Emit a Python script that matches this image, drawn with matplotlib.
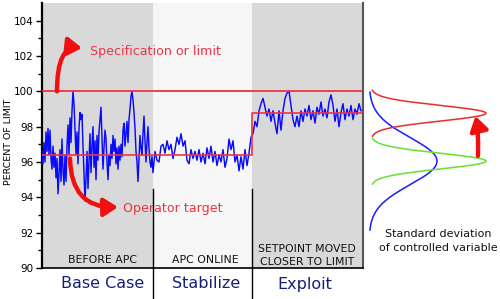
import numpy as np
import matplotlib
matplotlib.use("Agg")
import matplotlib.pyplot as plt
from matplotlib.patches import FancyArrowPatch
from matplotlib.path import Path
import matplotlib.transforms as mtransforms

# ---------------- data ----------------
base_case = [96.6, 95.9, 97.1, 96.0, 97.7, 96.6, 97.9, 96.4, 97.8, 96.2,
             95.6, 96.9, 95.7, 96.5, 95.1, 96.2, 94.2, 95.3, 96.7, 94.9,
             97.3, 95.5, 94.7, 96.4, 94.9, 96.9, 98.1, 96.4, 98.5, 97.1,
             98.9, 100.0, 99.3, 97.9, 96.4, 97.7, 95.9, 97.9, 98.8, 98.4,
             98.7, 96.9, 95.4, 93.8, 95.1, 96.6, 94.5, 96.1, 97.6, 95.4,
             96.9, 98.0, 95.7, 97.2, 95.0, 97.5, 96.1, 97.7, 98.4, 99.1,
             97.3, 95.6, 96.8, 97.8, 97.3, 96.0, 95.0, 96.4, 95.8, 97.0,
             96.2, 97.5, 96.6, 97.3, 95.9, 96.8, 95.6, 96.9, 96.1, 97.0,
             96.3, 97.8, 98.2, 96.9, 97.6, 98.3, 97.1, 98.4, 99.0, 99.7,
             100.0, 99.5, 98.8, 97.9, 96.6, 96.0, 94.9, 96.2, 97.5, 96.8,
             96.4, 97.6, 98.6, 97.2, 96.0, 97.1, 98.0, 96.8, 96.0, 95.7,
             96.3]
stabilize = [95.4, 96.6, 96.1, 96.0, 96.9, 97.0, 96.5, 97.2, 96.7, 97.0,
             96.2, 96.7, 97.4, 97.0, 97.6, 96.9, 97.2, 96.1, 95.9, 96.7,
             96.2, 96.6, 96.1, 96.7, 96.0, 96.5, 95.9, 96.8, 96.2, 96.9,
             96.0, 96.6, 95.8, 96.4, 96.0, 96.7, 95.7, 96.2, 97.3, 96.7,
             97.2, 96.0, 96.4, 95.5, 96.3, 95.6, 96.7, 95.8, 96.5, 97.4]
exploit = [97.6, 98.3, 98.0, 98.9, 99.3, 99.6, 99.1, 98.6, 99.0, 98.3,
           98.9, 98.2, 97.6, 98.9, 97.8, 98.9, 99.6, 99.9, 100.0, 99.2,
           98.4, 98.0, 98.6, 98.0, 98.9, 98.3, 99.0, 98.6, 99.2, 98.4,
           98.9, 98.2, 99.1, 98.7, 99.4, 98.6, 99.0, 98.5, 99.4, 99.8,
           99.2, 98.3, 99.0, 98.0, 98.8, 99.3, 98.4, 99.0, 98.6, 99.2,
           98.4, 99.0, 98.7, 99.3, 98.9]

phase_edges = [0, 111, 210, 321]
phase_names = ["Base Case", "Stabilize", "Exploit"]
phase_notes = ["BEFORE APC", "APC ONLINE", "SETPOINT MOVED\nCLOSER TO LIMIT"]
phase_colors = ["#d9d9d9", "#f6f6f6", "#d9d9d9"]
spec_limit = 100.0
targets = [96.4, 96.4, 98.75]

# distributions: (mean, sd, peak width in px, color)
dist_mean = [96.05, 98.76, 96.05]
dist_sd = [1.33, 0.44, 0.44]
dist_colors = ["#1a1aff", "#ee2a2a", "#66e033"]
dist_amp = [68, 115, 115]
dist_base = [369, 371, 371]
dist_span = [3.9, 1.3, 1.3]

# ---------------- figure ----------------
fig = plt.figure(figsize=(5, 2.99), dpi=100)
W, H = 500, 299
ax = fig.add_axes([42 / W, 1 - 268 / H, 321 / W, 265 / H])
ax.set_xlim(0, 321)
ax.set_ylim(90, 105)

for i in range(3):
    ax.axvspan(phase_edges[i], phase_edges[i + 1], color=phase_colors[i], lw=0, zorder=0)

x1 = np.arange(0, len(base_case))
x2 = np.arange(111, 111 + 2 * len(stabilize), 2)
x3 = np.arange(211, 211 + 2 * len(exploit), 2)
xs = np.concatenate([x1, x2, x3])
ys = np.concatenate([base_case, stabilize, exploit])
ax.plot(xs, ys, color="#0a0aff", lw=1.05, zorder=3)

red = "#ee3344"
ax.axhline(spec_limit, color=red, lw=1.3, zorder=4)
ax.plot([phase_edges[0], phase_edges[2], phase_edges[2], phase_edges[3]],
        [targets[0], targets[1], targets[2], targets[2]], color=red, lw=1.2, zorder=4)

# spines / ticks
ax.spines["top"].set_visible(False)
ax.spines["left"].set_linewidth(1.6)
ax.spines["bottom"].set_linewidth(1.2)
ax.spines["right"].set_color("#555555")
ax.spines["right"].set_linewidth(1.5)
ax.set_xticks([])
ax.set_yticks(np.arange(90, 105, 2))
ax.set_yticks(np.arange(91, 105, 2), minor=True)
ax.tick_params(axis="y", which="major", length=4, width=1, labelsize=7.5, pad=2)
ax.tick_params(axis="y", which="minor", length=3, width=1)
fig.text(9 / W, 1 - 142 / H, "PERCENT OF LIMIT", rotation=90, ha="center",
         va="center", fontsize=6.8)

# dividers
trans = mtransforms.blended_transform_factory(ax.transData, ax.transAxes)
for e in phase_edges[1:3]:
    ax.plot([e, e], [(268 - 189) / 265, (268 - 298) / 265], color="black",
            lw=1.0, transform=trans, clip_on=False, zorder=5)

# phase notes and names (pixel centres)
name_cx = [103, 206, 305]
note_cx = [102, 205, 307]
note_cy = [260, 260, 255.5]
for i in range(3):
    fig.text(note_cx[i] / W, 1 - note_cy[i] / H, phase_notes[i], ha="center",
             va="center", fontsize=7.8, color="#111111", linespacing=1.3)
    fig.text(name_cx[i] / W, 1 - 284 / H, phase_names[i], ha="center",
             va="center", fontsize=11.5, color="#14207a")

# annotations
ax.text(48, 102.25, "Specification or limit", color=red, fontsize=9.1,
        va="center", ha="left")
ax.text(81, 93.35, "Operator target", color=red, fontsize=9.1,
        va="center", ha="left")

arrow_red = "#f01010"
p1 = Path([(15, 100.0), (15, 102.6), (40, 102.45)],
          [Path.MOVETO, Path.CURVE3, Path.CURVE3])
a1 = FancyArrowPatch(path=p1, arrowstyle="-|>,head_length=0.7,head_width=0.45",
                     mutation_scale=12, lw=3.2, color=arrow_red, zorder=6)
ax.add_patch(a1)
p2 = Path([(28, 96.2), (29, 93.4), (76, 93.45)],
          [Path.MOVETO, Path.CURVE3, Path.CURVE3])
a2 = FancyArrowPatch(path=p2, arrowstyle="-|>,head_length=0.7,head_width=0.45",
                     mutation_scale=12, lw=3.2, color=arrow_red, zorder=6)
ax.add_patch(a2)

# right-hand distributions
ax2 = fig.add_axes([360 / W, 1 - 268 / H, 140 / W, 265 / H])
ax2.set_xlim(360, 500)
ax2.set_ylim(90, 105)
ax2.axis("off")
for m, s, c, a, b, sp in zip(dist_mean, dist_sd, dist_colors, dist_amp, dist_base, dist_span):
    yy = np.linspace(m - sp, m + sp, 200)
    xx = b + a * np.exp(-0.5 * ((yy - m) / s) ** 2)
    ax2.plot(xx, yy, color=c, lw=1.1)

p3 = Path([(478, 96.35), (478.5, 97.9), (475.5, 98.6)],
          [Path.MOVETO, Path.CURVE3, Path.CURVE3])
a3 = FancyArrowPatch(path=p3, arrowstyle="-|>,head_length=0.7,head_width=0.45",
                     mutation_scale=12, lw=3.2, color=arrow_red, zorder=6)
ax2.add_patch(a3)

fig.text(438 / W, 1 - 241 / H, "Standard deviation\nof controlled variable",
         ha="center", va="center", fontsize=8.0, color="#111111", linespacing=1.6)

fig.savefig("out.png", dpi=100)
